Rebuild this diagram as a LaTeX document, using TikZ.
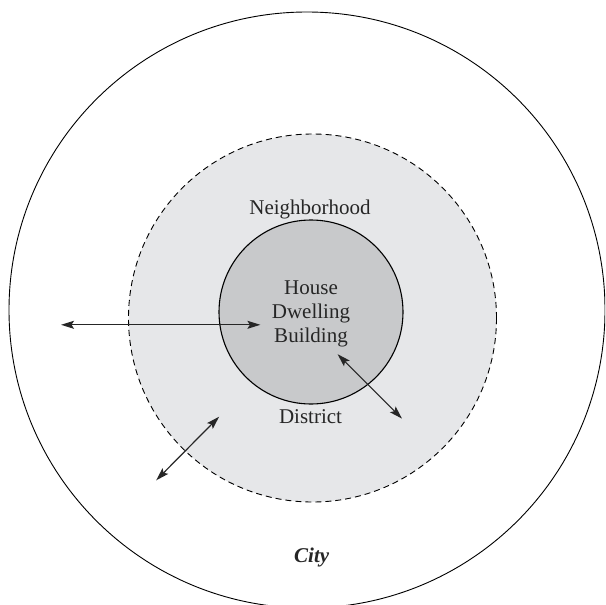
\documentclass[tikz,border=0pt]{standalone}
\usepackage{fontspec}
\setmainfont{Liberation Serif}
\usetikzlibrary{arrows.meta}
\definecolor{nbfill}{HTML}{E6E7E9}
\definecolor{hsfill}{HTML}{C8C9CB}
\begin{document}
\begin{tikzpicture}[x=1pt,y=-1pt,
  ring/.style={circle, draw=black, inner sep=0pt, minimum size=#1},
  lbl/.style={font=\fontsize{21}{24}\selectfont, inner sep=0pt, align=center, anchor=base, text=black!85},
  tip/.tip={Stealth[length=13pt,width=8pt,inset=2.5pt]},
  biarrow/.style={tip-tip, line width=1.2pt, draw=black!85}]
\useasboundingbox (0,0) rectangle (605,605);
\clip (0,0) rectangle (605,605);
\fill[white] (0,0) rectangle (605,605);
\node[ring=596pt, line width=0.9pt] (city) at (307,310) {};
\node[ring=368pt, fill=nbfill, line width=0.9pt, dash pattern=on 6pt off 4pt] (nbhd) at (312.5,318) {};
\node[ring=184pt, fill=hsfill, line width=1.1pt] (house) at (311,312) {};
\node[lbl] (tNbhd) at (310,214.3) {Neighborhood};
\node[lbl] (tHouse) at (311,342.3) {House\\Dwelling\\Building};
\node[lbl] (tDistrict) at (310.5,423) {District};
\node[lbl, font=\fontsize{21}{24}\selectfont\bfseries\itshape] (tCity) at (311.7,562) {City};
\coordinate (a1) at (61,324.8);
\coordinate (b1) at (260.4,324.8);
\coordinate (a2) at (156.2,480.3);
\coordinate (b2) at (219.1,416.7);
\coordinate (a3) at (337.6,354.2);
\coordinate (b3) at (402,418.6);
\draw[biarrow] (a1) -- (b1);
\draw[biarrow] (a2) -- (b2);
\draw[biarrow] (a3) -- (b3);
\end{tikzpicture}
\end{document}
